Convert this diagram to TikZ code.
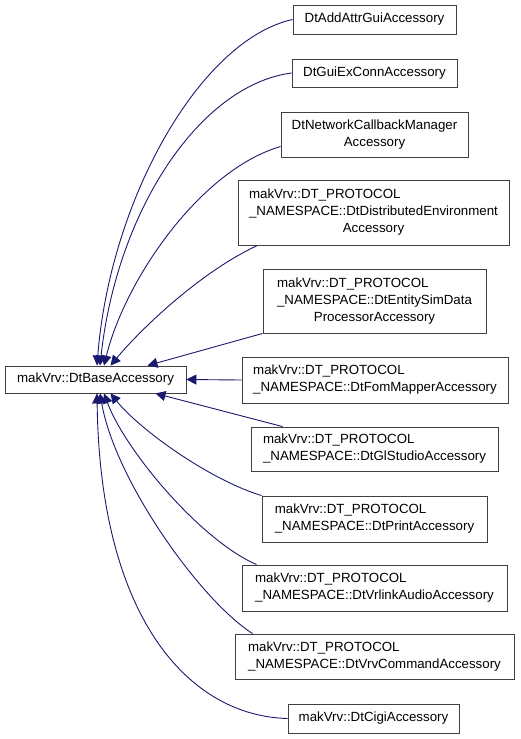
\documentclass[tikz,border=0pt]{standalone}
\usepackage{fontspec}
\setmainfont{Liberation Sans}
\usetikzlibrary{arrows.meta}
\definecolor{edgeblue}{HTML}{191970}
\definecolor{boxgray}{HTML}{404040}
\newcommand{\midline}[1]{\multicolumn{1}{@{}c@{}}{#1}}

\begin{document}
\begin{tikzpicture}[x=1pt,y=-1pt,
  cls/.style={draw=boxgray,line width=0.9pt,fill=white,inner sep=0pt,
    font=\fontsize{13.3}{17}\selectfont},
  inh/.style={draw=edgeblue,line width=0.9pt,-{Triangle[length=10pt,width=10pt]}}]
  \useasboundingbox (0,0) rectangle (520,739);
  % base class
  \node [cls,minimum width=181pt,minimum height=27pt] (base) at (95.5,379.5) {makVrv::DtBaseAccessory};
  % derived classes
  \node [cls,minimum width=163pt,minimum height=29pt] (addattr) at (374.5,19.5) {DtAddAttrGuiAccessory};
  \node [cls,minimum width=165pt,minimum height=28pt] (guiex) at (374.5,73) {DtGuiExConnAccessory};
  \node [cls,minimum width=187pt,minimum height=45pt,align=center] (netcb) at (374.5,134.5)
    {DtNetworkCallbackManager\\Accessory};
  \node [cls,minimum width=271pt,minimum height=65pt] (distenv) at (373.5,212.5)
    {\begin{tabular}{@{}l@{}}makVrv::DT\_PROTOCOL\\\_NAMESPACE::DtDistributedEnvironment\\\midline{Accessory}\end{tabular}};
  \node [cls,minimum width=223pt,minimum height=64pt] (simdata) at (374.5,301)
    {\begin{tabular}{@{}l@{}}makVrv::DT\_PROTOCOL\\\_NAMESPACE::DtEntitySimData\\\midline{ProcessorAccessory}\end{tabular}};
  \node [cls,minimum width=266pt,minimum height=46pt,align=left] (fommap) at (375,380)
    {makVrv::DT\_PROTOCOL\\\_NAMESPACE::DtFomMapperAccessory};
  \node [cls,minimum width=247pt,minimum height=44pt,align=left] (glstudio) at (374.5,449)
    {makVrv::DT\_PROTOCOL\\\_NAMESPACE::DtGlStudioAccessory};
  \node [cls,minimum width=225pt,minimum height=46pt,align=left] (print) at (374.5,519)
    {makVrv::DT\_PROTOCOL\\\_NAMESPACE::DtPrintAccessory};
  \node [cls,minimum width=265pt,minimum height=46pt,align=left] (vrlink) at (374.5,588)
    {makVrv::DT\_PROTOCOL\\\_NAMESPACE::DtVrlinkAudioAccessory};
  \node [cls,minimum width=279pt,minimum height=45pt,align=left] (vrvcmd) at (374.5,656.5)
    {makVrv::DT\_PROTOCOL\\\_NAMESPACE::DtVrvCommandAccessory};
  \node [cls,minimum width=171pt,minimum height=29pt] (cigi) at (373.5,718.5) {makVrv::DtCigiAccessory};
  % inheritance edges, upper group
  \draw [inh] (addattr.west) .. controls (200,40) and (110,200) .. ([xshift=1.5pt]base.north);
  \draw [inh] (guiex.west) .. controls (200,85) and (117,210) .. ([xshift=4.5pt]base.north);
  \draw [inh] ([yshift=-12pt]netcb.west) .. controls (200,170) and (125,280) .. ([xshift=8.5pt]base.north);
  \draw [inh] ([xshift=20pt]distenv.south west) .. controls (200,272) and (140,330) .. ([xshift=15pt]base.north);
  \draw [inh] (simdata.south west) -- ([xshift=52pt]base.north);
  \draw [inh] (fommap.west) -- (base.east);
  % lower group
  \draw [inh] ([xshift=32pt]glstudio.north west) -- ([xshift=60pt]base.south);
  \draw [inh] (print.north west) .. controls (210,480) and (140,430) .. ([xshift=15pt]base.south);
  \draw [inh] ([xshift=15pt]vrlink.north west) .. controls (200,540) and (125,450) .. ([xshift=8.5pt]base.south);
  \draw [inh] ([xshift=18pt]vrvcmd.north west) .. controls (200,600) and (115,480) .. ([xshift=4.5pt]base.south);
  \draw [inh] (cigi.west) .. controls (190,716) and (100,620) .. ([xshift=1.5pt]base.south);
\end{tikzpicture}
\end{document}
